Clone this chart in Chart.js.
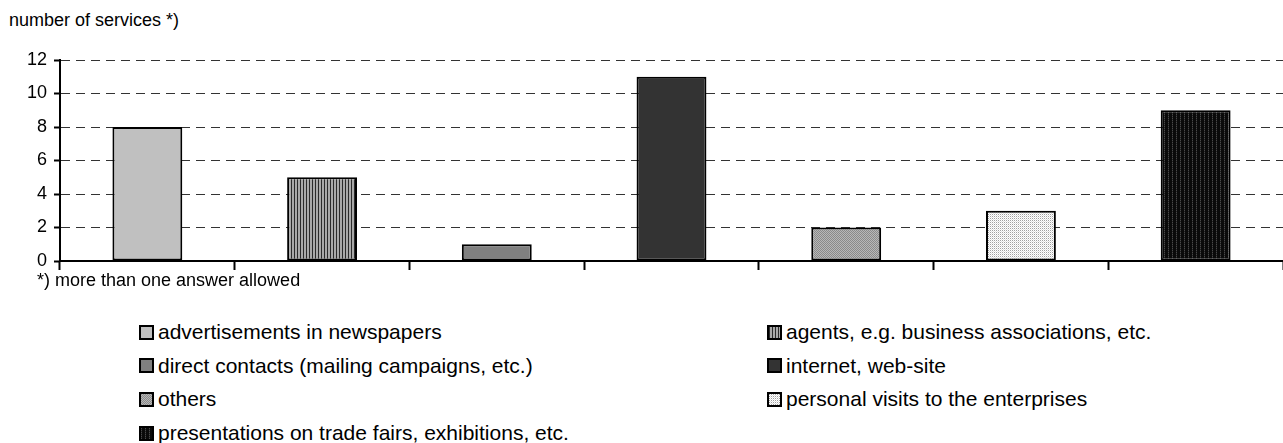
<!DOCTYPE html>
<html>
<head>
<meta charset="utf-8">
<script src="https://cdn.jsdelivr.net/npm/chart.js@4.4.1/dist/chart.umd.min.js"></script>
<style>
  body { margin: 0; background: #fff; font-family: Arial, "Liberation Sans", sans-serif; color: #000; }
  #wrap { position: relative; width: 1283px; height: 443px; overflow: hidden; }
  #chart { position: absolute; left: 0; top: 0; }
  .note { position: absolute; font-size: 18px; line-height: 20px; white-space: nowrap; }
  .item { position: absolute; height: 26px; display: flex; align-items: center; font-size: 21px; white-space: nowrap; }
  .item canvas { border: 2px solid #000; margin-right: 4px; }
</style>
</head>
<body>
<div id="wrap">
  <div class="note" style="left:9px;top:10px">number of services *)</div>
  <canvas id="chart" width="1283" height="300"></canvas>
  <div class="note" style="left:37px;top:270px">*) more than one answer allowed</div>
  <div id="legend"></div>
</div>
<script>
const categories = [
  'advertisements in newspapers',
  'agents, e.g. business associations, etc.',
  'direct contacts (mailing campaigns, etc.)',
  'internet, web-site',
  'others',
  'personal visits to the enterprises',
  'presentations on trade fairs, exhibitions, etc.'
];
const services = [8, 5, 1, 11, 2, 3, 9];
const yTicks = [0, 2, 4, 6, 8, 10, 12];

const ctx = document.getElementById('chart').getContext('2d');

// small repeating tiles to mimic the hatch fills
function tile(rows) {
  const c = document.createElement('canvas');
  c.width = rows[0].length;
  c.height = rows.length;
  const g = c.getContext('2d');
  rows.forEach((row, y) => row.forEach((col, x) => {
    g.fillStyle = col;
    g.fillRect(x, y, 1, 1);
  }));
  return ctx.createPattern(c, 'repeat');
}

const fills = [
  '#c0c0c0',
  tile([['#2a2a2a', '#a8a8a8', '#a8a8a8']]),
  '#808080',
  '#333333',
  tile([['#8a8a8a', '#b8b8b8'], ['#b8b8b8', '#8a8a8a']]),
  tile([['#a0a0a0', '#ffffff'], ['#ffffff', '#e0e0e0']]),
  tile([['#4a4a4a', '#0a0a0a', '#0a0a0a', '#0a0a0a'], ['#222222', '#0a0a0a', '#0a0a0a', '#0a0a0a']])
];

const font = { family: 'Arial, "Liberation Sans", sans-serif', size: 18 };

new Chart(ctx, {
  type: 'bar',
  data: {
    labels: categories,
    datasets: [{
      data: services,
      backgroundColor: fills,
      borderColor: '#000',
      borderWidth: 2,
      borderSkipped: false,
      barPercentage: 0.4,
      categoryPercentage: 1
    }]
  },
  options: {
    responsive: false,
    animation: false,
    devicePixelRatio: 1,
    layout: { padding: { top: 60, left: 0, right: 0, bottom: 0 } },
    plugins: {
      legend: { display: false },
      tooltip: { enabled: false }
    },
    scales: {
      x: {
        ticks: { display: false },
        grid: { offset: true, drawOnChartArea: false, color: '#000', tickColor: '#000', tickLength: 9, tickWidth: 2 },
        border: { color: '#000', width: 2 },
        afterFit: s => { s.height = 39; }
      },
      y: {
        min: 0,
        max: 12,
        afterBuildTicks: s => { s.ticks = yTicks.map(v => ({ value: v })); },
        ticks: { color: '#000', font: font, padding: 7 },
        grid: { color: '#333', lineWidth: 1, tickColor: '#000', tickLength: 6, tickWidth: 2, tickBorderDash: [] },
        border: { color: '#000', width: 2, dash: [9, 6] },
        afterFit: s => { s.width = 60; }
      }
    }
  }
});

// legend in two columns, filled row by row
const legend = document.getElementById('legend');
const colLeft = [139, 767];
categories.forEach((name, i) => {
  const item = document.createElement('div');
  item.className = 'item';
  item.style.left = colLeft[i % 2] + 'px';
  item.style.top = (332 + Math.floor(i / 2) * 33.7 - 13) + 'px';
  const sw = document.createElement('canvas');
  sw.width = 11;
  sw.height = 11;
  const g = sw.getContext('2d');
  g.fillStyle = fills[i];
  g.fillRect(0, 0, 11, 11);
  item.appendChild(sw);
  item.appendChild(document.createTextNode(name));
  legend.appendChild(item);
});
</script>
</body>
</html>
